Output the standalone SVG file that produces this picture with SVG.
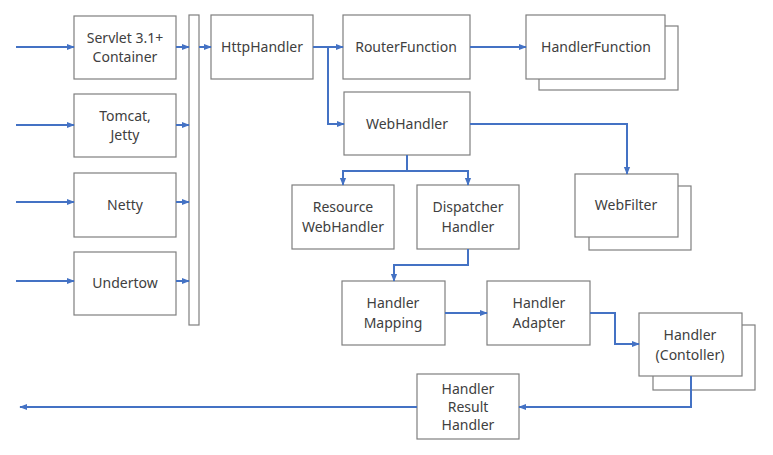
<svg xmlns="http://www.w3.org/2000/svg" width="773" height="455" viewBox="0 0 773 455">
<defs>
<marker id="ah" viewBox="0 0 10 10" refX="9" refY="5" markerWidth="4" markerHeight="4" orient="auto" markerUnits="strokeWidth">
<path d="M0,1 L10,5 L0,9 z" fill="#4472c4"/>
</marker>
</defs>
<style>
.box{fill:#fff;stroke:#7f7f7f;stroke-width:1.2}
.t{font-family:"Noto Sans","Open Sans","DejaVu Sans",sans-serif;font-size:14px;fill:#404040;text-anchor:middle}
.c{fill:none;stroke:#4472c4;stroke-width:2}
.a{marker-end:url(#ah)}
</style>
<rect width="773" height="455" fill="#fff"/>
<g id="servlet"><rect class="box" x="74" y="16" width="102" height="63"/><text class="t" x="125" y="43">Servlet 3.1+</text><text class="t" x="125" y="62">Container</text></g>
<g id="tomcat"><rect class="box" x="74" y="94" width="102" height="63"/><text class="t" x="125" y="121">Tomcat,</text><text class="t" x="125" y="140">Jetty</text></g>
<g id="netty"><rect class="box" x="74" y="173" width="102" height="64"/><text class="t" x="125" y="210">Netty</text></g>
<g id="undertow"><rect class="box" x="74" y="252" width="102" height="63"/><text class="t" x="125" y="288">Undertow</text></g>
<g id="bar"><rect class="box" x="189" y="15" width="10" height="310"/></g>
<g id="httphandler"><rect class="box" x="211" y="15" width="102" height="64"/><text class="t" x="262" y="52">HttpHandler</text></g>
<g id="routerfunction"><rect class="box" x="343" y="15" width="127" height="64"/><text class="t" x="406" y="52">RouterFunction</text></g>
<g id="handlerfunction"><rect class="box" x="539" y="26" width="139" height="64"/><rect class="box" x="526" y="15" width="139" height="64"/><text class="t" x="596" y="52">HandlerFunction</text></g>
<g id="webhandler"><rect class="box" x="344" y="92" width="126" height="63"/><text class="t" x="407" y="129">WebHandler</text></g>
<g id="webfilter"><rect class="box" x="589" y="186" width="102" height="64"/><rect class="box" x="575" y="174" width="103" height="63"/><text class="t" x="626" y="210">WebFilter</text></g>
<g id="resourcewebhandler"><rect class="box" x="292" y="185" width="102" height="64"/><text class="t" x="343" y="212">Resource</text><text class="t" x="343" y="232">WebHandler</text></g>
<g id="dispatcherhandler"><rect class="box" x="417" y="185" width="102" height="64"/><text class="t" x="468" y="212">Dispatcher</text><text class="t" x="468" y="232">Handler</text></g>
<g id="handlermapping"><rect class="box" x="342" y="281" width="103" height="64"/><text class="t" x="393" y="308">Handler</text><text class="t" x="393" y="328">Mapping</text></g>
<g id="handleradapter"><rect class="box" x="487" y="281" width="103" height="64"/><text class="t" x="539" y="308">Handler</text><text class="t" x="539" y="328">Adapter</text></g>
<g id="handler"><rect class="box" x="653" y="325" width="102" height="65"/><rect class="box" x="639" y="313" width="103" height="63"/><text class="t" x="690" y="340">Handler</text><text class="t" x="690" y="360">(Contoller)</text></g>
<g id="handlerresulthandler"><rect class="box" x="417" y="374" width="102" height="65"/><text class="t" x="468" y="394">Handler</text><text class="t" x="468" y="412">Result</text><text class="t" x="468" y="430">Handler</text></g>
<g id="connectors">
<path class="c a" d="M16,47 H74"/>
<path class="c a" d="M16,125 H74"/>
<path class="c a" d="M16,202 H74"/>
<path class="c a" d="M16,281 H74"/>
<path class="c a" d="M176,47 H189"/>
<path class="c a" d="M176,125 H189"/>
<path class="c a" d="M176,202 H189"/>
<path class="c a" d="M176,281 H189"/>
<path class="c a" d="M199,47 H211"/>
<path class="c a" d="M313,47 H343"/>
<path class="c a" d="M328,47 V124 H344"/>
<path class="c a" d="M470,47 H526"/>
<path class="c a" d="M470,124 H627 V174"/>
<path class="c" d="M407,155 V171"/>
<path class="c a" d="M407,171 H343 V185"/>
<path class="c a" d="M407,171 H468 V185"/>
<path class="c a" d="M468,249 V265 H394 V281"/>
<path class="c a" d="M445,313 H487"/>
<path class="c a" d="M590,313 H615 V344 H639"/>
<path class="c a" d="M691,376 V407 H519"/>
<path class="c a" d="M417,407 H20"/>
</g>
</svg>
